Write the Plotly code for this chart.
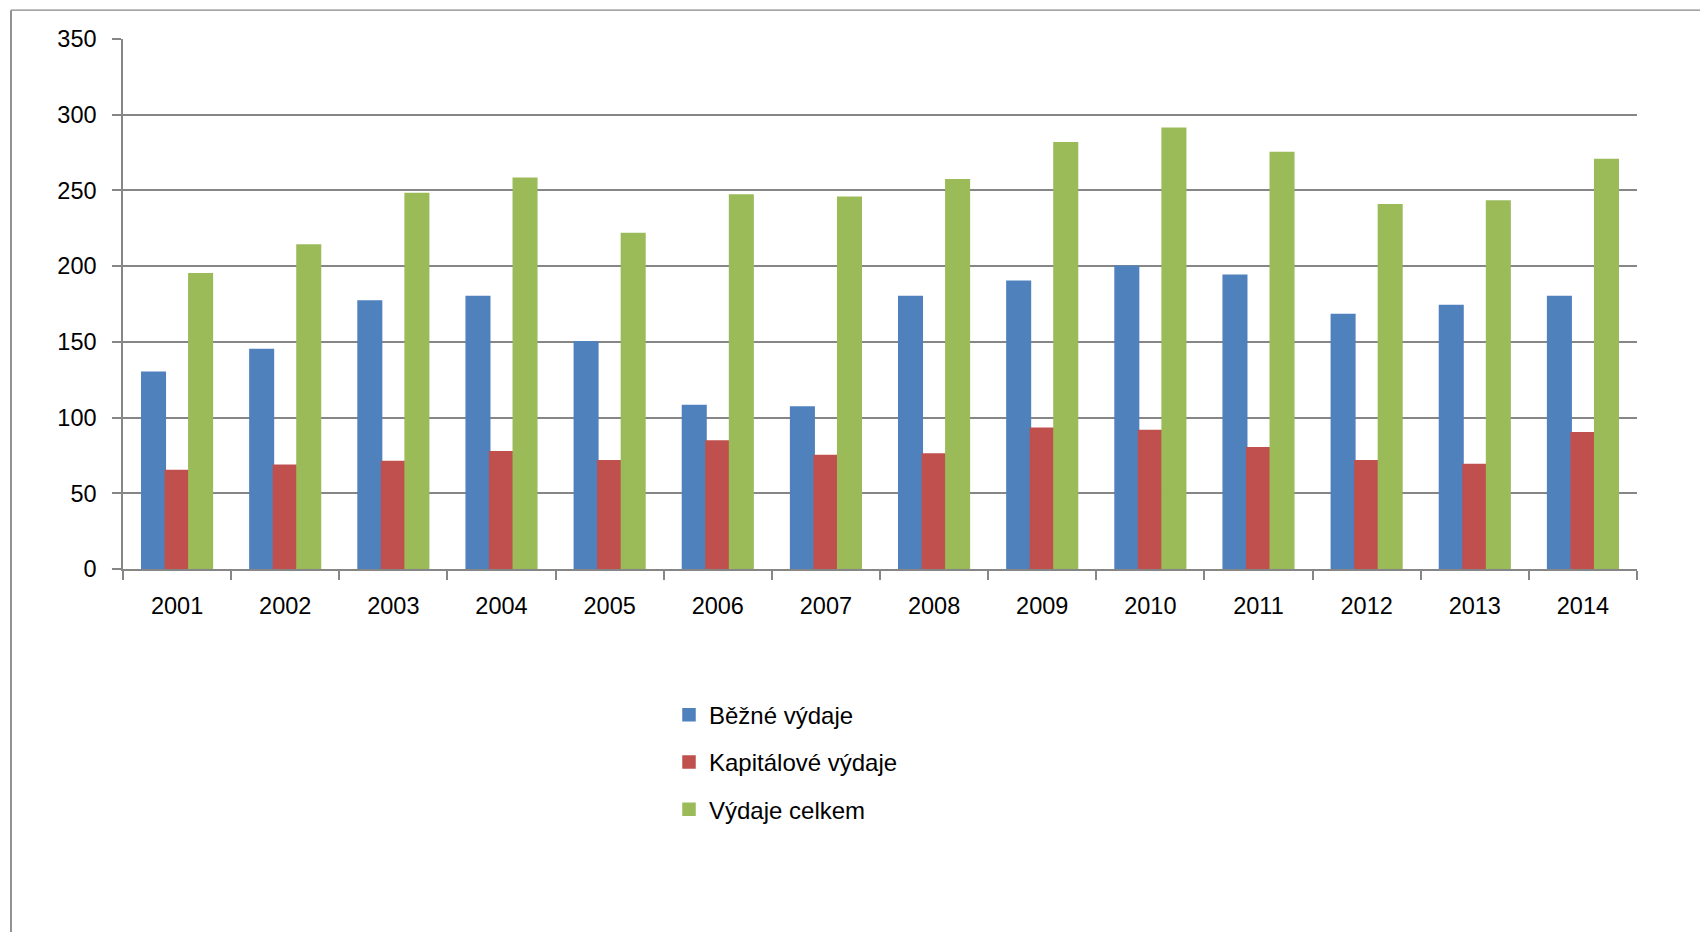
import plotly.graph_objects as go

years = ["2001", "2002", "2003", "2004", "2005", "2006", "2007",
         "2008", "2009", "2010", "2011", "2012", "2013", "2014"]
bezne = [130, 145, 177, 180, 150, 108, 107, 180, 190, 200, 194, 168, 174, 180]
kapitalove = [65, 68.5, 71, 77.5, 71.5, 84.5, 75, 76, 93, 91.5, 80, 71.5, 69, 90]
celkem = [195, 214, 248, 258, 221.5, 247, 245.5, 257, 281.5, 291, 275, 240.5, 243, 270.5]

series_names = ["Běžné výdaje", "Kapitálové výdaje", "Výdaje celkem"]
colors = ["#4F81BD", "#C0504D", "#9BBB59"]

FONT = "Liberation Sans"
GRID = "#868686"

fig = go.Figure()
for name, vals, col in zip(series_names, [bezne, kapitalove, celkem], colors):
    fig.add_trace(go.Bar(x=years, y=vals, name=name, legendgroup=name,
                         marker=dict(color=col, line=dict(width=1.5, color=col))))

W, H = 1700, 932
L, R, T, B = 123, 63, 39.3, 362.7
pw, ph = W - L - R, H - T - B

def px_x(x):
    return (x - L) / pw

def px_y(y):
    return (H - B - y) / ph

fig.update_layout(
    width=W, height=H,
    margin=dict(l=L, r=R, t=T, b=B, pad=0),
    paper_bgcolor="white", plot_bgcolor="white",
    barmode="group", bargap=0.347, bargroupgap=0,
    font=dict(family=FONT, size=23.5, color="#000000"),
    showlegend=True,
    legend=dict(
        x=px_x(669), y=px_y(693), xanchor="left", yanchor="top",
        orientation="v", traceorder="grouped", tracegroupgap=13,
        itemwidth=30, font=dict(family=FONT, size=24, color="#000000"),
        bgcolor="rgba(0,0,0,0)",
    ),
    xaxis=dict(
        type="category", showline=True, linecolor=GRID, linewidth=1.5,
        ticks="outside", ticklen=9, tickcolor=GRID, tickwidth=1.5,
        tickson="boundaries", showgrid=False, ticklabelstandoff=15,
        tickfont=dict(family=FONT, size=23.5, color="#000000"),
    ),
    yaxis=dict(
        range=[0, 350], dtick=50, tick0=0, showline=True, linecolor=GRID,
        linewidth=1.5, ticks="outside", ticklen=9, tickcolor=GRID, tickwidth=1.5,
        showgrid=True, gridcolor=GRID, gridwidth=1.6, zeroline=False,
        ticklabelstandoff=11,
        tickfont=dict(family=FONT, size=23.5, color="#000000"),
    ),
    shapes=[
        dict(type="line", xref="paper", yref="paper",
             x0=px_x(11), x1=px_x(1710), y0=px_y(10.5), y1=px_y(10.5),
             line=dict(color=GRID, width=1.3)),
        dict(type="line", xref="paper", yref="paper",
             x0=px_x(11), x1=px_x(11), y0=px_y(10.5), y1=px_y(940),
             line=dict(color=GRID, width=1.8)),
    ],
)

fig.write_html("out.html")
